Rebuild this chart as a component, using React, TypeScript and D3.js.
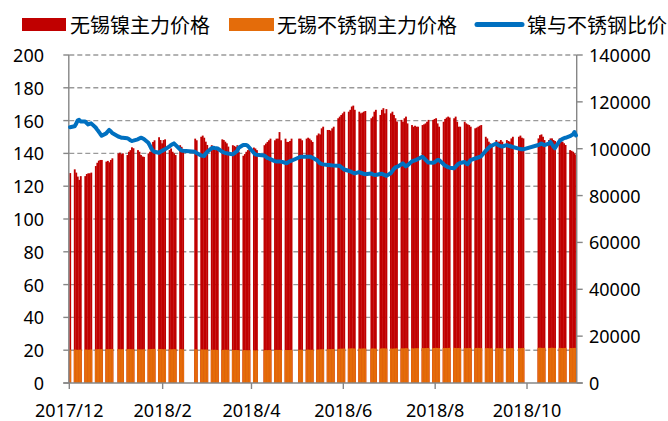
import React from "react";
import * as d3 from "d3";

// ---- categories: trading days (weekdays minus exchange holidays) ----
const firstDay = "2017-12-01";
const lastDay = "2018-11-02";
const holidays = [
  "2018-01-01", "2018-02-15", "2018-02-16", "2018-02-19", "2018-02-20", "2018-02-21",
  "2018-04-05", "2018-04-06", "2018-04-30", "2018-05-01", "2018-06-18", "2018-09-24",
  "2018-10-01", "2018-10-02", "2018-10-03", "2018-10-04", "2018-10-05",
];

// 无锡镍主力价格 (元/吨, right axis), one line per trading week
const nickel = [
  89600,
  91200, 89800, 88100, 86700, 88300,
  88300, 89200, 89500, 89500, 89800,
  92600, 94000, 94900, 95200, 95200,
  94500, 94800, 94200, 95200, 95900,
  98000, 98300, 97700, 98000,
  97300, 98700, 99400, 100600, 100200,
  99400, 98700, 97300, 96700, 96500,
  98000, 98700, 99400, 102900, 103600,
  104900, 103700, 102300, 103700, 104000,
  99400, 100100, 98700, 98000, 97300,
  101500, 100800, 98700,
  104300, 103600,
  105100, 105600, 104700, 103000, 101600,
  101500, 100800, 100100, 99800, 99400,
  104000, 103700, 103000, 102300, 100900,
  101500, 101200, 100800, 101500, 98700,
  97000, 97700, 98700, 99400, 99900,
  100500, 100100, 99400,
  101500, 102200, 102900, 103600, 104300,
  103600, 104300, 104300, 107100, 103600,
  104300, 102900, 102900, 103300, 104300,
  104300, 104300, 103600,
  104300, 104700, 104300, 103600, 102900,
  105700, 106500, 106100, 108700, 109400,
  108000, 108000, 107700, 108700, 109400,
  113000, 113700, 114400, 115100, 115800,
  115800, 116600, 118000, 118400, 116600,
  115800, 115100, 115400, 115800, 116100,
  113000, 113700, 115800, 116600,
  114400, 116600, 117300, 115100, 116900,
  115100, 115800, 114400, 113000, 111600,
  112300, 111500, 113000, 113700, 110800,
  110100, 109400, 109800, 109400, 109400,
  110100, 110400, 110800, 111500, 112300,
  112300, 112700, 113000, 110800, 109400,
  111500, 112700, 113300, 113700, 113300,
  113000, 113700, 111500, 109400, 109400,
  111500, 110800, 110400, 110100, 109400,
  108700, 109000, 109400, 109800, 110100,
  105100, 104400, 103000, 102300, 101600,
  103700, 103000, 103000, 103700, 103000,
  103700, 103300, 103000, 104400, 105100,
  105100, 105600, 104700, 104400,
  104400, 105800, 106100, 105100, 103700,
  103700, 104400, 104400, 103700, 103300,
  104400, 103700, 103000, 102300, 101600,
  99400, 99100, 98700, 98000, 97300,
];

// 无锡不锈钢主力价格 (元/吨, right axis)
const stainless = [
  14200,
  14250, 14200, 14150, 14200, 14250,
  14300, 14250, 14200, 14250, 14300,
  14350, 14400, 14450, 14400, 14450,
  14450, 14400, 14450, 14500, 14500,
  14450, 14400, 14400, 14450,
  14450, 14500, 14450, 14400, 14400,
  14400, 14350, 14300, 14350, 14400,
  14400, 14450, 14500, 14550, 14550,
  14500, 14500, 14450, 14400, 14450,
  14400, 14350, 14400, 14450, 14400,
  14450, 14400, 14350,
  14400, 14350,
  14350, 14300, 14250, 14300, 14250,
  14200, 14150, 14200, 14150, 14100,
  14100, 14150, 14200, 14150, 14150,
  14100, 14050, 14100, 14050, 14000,
  14000, 14050, 14000, 13950, 14000,
  13950, 13900, 13950,
  14000, 14050, 14000, 14050, 14100,
  14100, 14150, 14100, 14150, 14100,
  14100, 14050, 14050, 14100, 14150,
  14150, 14200, 14150,
  14200, 14250, 14200, 14150, 14200,
  14250, 14300, 14350, 14400, 14400,
  14400, 14450, 14450, 14500, 14500,
  14550, 14600, 14650, 14650, 14700,
  14700, 14750, 14800, 14750, 14700,
  14700, 14650, 14700, 14750, 14700,
  14700, 14750, 14700, 14650,
  14700, 14750, 14800, 14750, 14700,
  14700, 14650, 14700, 14750, 14800,
  14800, 14750, 14800, 14850, 14800,
  14800, 14750, 14800, 14850, 14850,
  14900, 14850, 14900, 14950, 14900,
  14900, 14950, 15000, 14950, 14900,
  14900, 14950, 14900, 14950, 15000,
  15000, 14950, 14900, 14950, 14900,
  14900, 14850, 14900, 14950, 14900,
  14900, 14950, 15000, 14950, 14900,
  14850, 14900, 14850, 14800, 14850,
  14850, 14900, 14850, 14900, 14850,
  14850, 14800, 14850, 14900, 14850,
  14900, 14850, 14900, 14950,
  15000, 15050, 15000, 14950, 15000,
  14950, 15000, 15050, 15000, 14950,
  15000, 14950, 14900, 14950, 15000,
  14950, 14900, 14950, 15000, 14950,
];

// 镍与不锈钢比价 (left axis)
const ratio = [
  156,
  156.5, 158, 160, 160.5, 159.5,
  159.5, 158.5, 157.7, 158, 158.3,
  155.8, 154.5, 153.3, 152, 150.8,
  152.2, 153.3, 154.3, 153.5, 152.4,
  150.3, 150, 149.6, 149.6,
  149.3, 148.8, 148, 147.6, 147.8,
  148.6, 149.1, 149.6, 149.3, 148.8,
  146.5, 144.8, 143, 141.7, 141,
  140.4, 141, 141.5, 142, 142.5,
  144.3, 145, 145.6, 146.1, 145.2,
  142.5, 141.8, 141.6,
  141, 140.2,
  138.8, 138.5, 138.4, 139.7, 140.8,
  143.1, 143.5, 143.3, 143.2, 143,
  141.1, 140.6, 140.3, 140.1, 139.9,
  139.4, 140, 140.8, 141.4, 143.5,
  145.1, 145.1, 145.1, 144.6, 143.6,
  140.4, 139.4, 139.2,
  138.7, 138, 137.3, 136.9, 136.5,
  135.3, 135.1, 135, 135, 135,
  134.3, 134, 134.7, 135.3, 135.5,
  137.5, 138, 138,
  138, 138, 138, 137.9, 137.3,
  135.9, 134.9, 134, 133.6, 133.3,
  132.9, 132.9, 132.8, 132.7, 132.6,
  132.5, 132.5, 131.7, 131, 130.2,
  129.4, 129.1, 128.6, 128.2, 127.8,
  128.6, 128.2, 127.9, 127.6, 127.3,
  127.8, 127.2, 126.9, 126.8,
  127.4, 127.6, 127.2, 126.8, 126.3,
  127.9, 129.2, 130.5, 131.4, 131.7,
  133.2, 134, 133, 132.1, 132.6,
  135.1, 135.4, 135.7, 136.1, 136.6,
  138, 137.1, 136.2, 135.3, 134.4,
  134.3, 134.5, 135.2, 136, 136,
  133.5, 132.6, 132.1, 131.6, 131.3,
  130.9, 131.8, 132.8, 133.7, 134.2,
  134.7, 134, 133.4, 134.6, 135.9,
  136.9, 137.2, 137.5, 137.8, 138.3,
  141.5, 142.4, 143.4, 144.3, 144.7,
  146, 145.3, 144.8, 144.4, 144.2,
  145.1, 144.8, 144.5, 144.2, 143.9,
  142.9, 142.7, 142.5, 142.5,
  145.1, 145.5, 146, 145.6, 145,
  146, 147, 145.6, 144.3, 143.2,
  147.4, 148.2, 148.8, 149.3, 149.5,
  150.5, 151, 151.5, 153, 151,
];

const xTickDates = ["2017-12-01", "2018-02-01", "2018-04-01", "2018-06-01", "2018-08-01", "2018-10-01"];
const xTickLabels = ["2017/12", "2018/2", "2018/4", "2018/6", "2018/8", "2018/10"];
const leftTicks = [0, 20, 40, 60, 80, 100, 120, 140, 160, 180, 200];
const rightTicks = [0, 20000, 40000, 60000, 80000, 100000, 120000, 140000];
const seriesNames = ["无锡镍主力价格", "无锡不锈钢主力价格", "镍与不锈钢比价"];

const DAY = 864e5;
const parseUTC = (s: string) => new Date(s + "T00:00:00Z");

function tradingDays(): Date[] {
  const out: Date[] = [];
  for (let t = parseUTC(firstDay).getTime(); t <= parseUTC(lastDay).getTime(); t += DAY) {
    const dt = new Date(t);
    const wd = dt.getUTCDay();
    const s = dt.toISOString().slice(0, 10);
    if (wd !== 0 && wd !== 6 && !holidays.includes(s)) out.push(dt);
  }
  return out;
}

const W = 668;
const H = 421;
const RED = "#C00000";
const ORANGE = "#E46C0A";
const BLUE = "#0070C0";
const AXIS = "#868686";
const NUM_FONT = "'Noto Sans', 'Open Sans', sans-serif";
const CJK_FONT = "'Noto Sans CJK SC', sans-serif";

export default function App() {
  const dates = tradingDays();
  const n = Math.min(dates.length, nickel.length, stainless.length, ratio.length);
  const left = 69.3;
  const right = 576.7;
  const top = 55;
  const bottom = 383;

  const x = d3
    .scaleUtc()
    .domain([parseUTC(firstDay), new Date(parseUTC(lastDay).getTime() + DAY)])
    .range([left, right]);
  const yL = d3.scaleLinear().domain([0, 200]).range([bottom, top]);
  const yR = d3.scaleLinear().domain([0, 140000]).range([bottom, top]);

  const idx = d3.range(n);
  const line = d3
    .line<number>()
    .x((i) => x(new Date(dates[i].getTime() + DAY / 2)))
    .y((i) => yL(ratio[i]))
    .curve(d3.curveLinear);

  const barX = (i: number) => x(dates[i]);
  // slight overlap so consecutive trading days read as one solid block
  const barW = (i: number) => x(new Date(dates[i].getTime() + DAY)) - x(dates[i]) + 0.35;

  return (
    <svg
      width={W}
      height={H}
      style={{ position: "absolute", left: 0, top: 0, background: "#fff" }}
    >
      <rect x={0} y={0} width={W} height={H} fill="#fff" />
      {/* gridlines */}
      {leftTicks.filter((v) => v > 0).map((v) => (
        <line
          key={"g" + v}
          x1={left}
          x2={right}
          y1={yL(v)}
          y2={yL(v)}
          stroke="#9A9A9A"
          strokeWidth={1.4}
          strokeDasharray="5,3"
        />
      ))}
      {/* nickel bars */}
      {idx.map((i) => (
        <rect
          key={"n" + i}
          x={barX(i)}
          y={yR(nickel[i])}
          width={barW(i)}
          height={bottom - yR(nickel[i])}
          fill={RED}
        />
      ))}
      {/* stainless bars */}
      {idx.map((i) => (
        <rect
          key={"s" + i}
          x={barX(i)}
          y={yR(stainless[i])}
          width={barW(i)}
          height={bottom - yR(stainless[i])}
          fill={ORANGE}
        />
      ))}
      {/* axes */}
      <line x1={left - 0.5} x2={left - 0.5} y1={top} y2={bottom} stroke={AXIS} strokeWidth={1.4} />
      <line x1={right} x2={right} y1={top} y2={bottom} stroke={AXIS} strokeWidth={1.4} />
      <line x1={left - 6} x2={right + 6} y1={bottom} y2={bottom} stroke={AXIS} strokeWidth={1.4} />
      {leftTicks.map((v) => (
        <g key={"lt" + v}>
          <line x1={left - 6} x2={left} y1={yL(v)} y2={yL(v)} stroke={AXIS} strokeWidth={1.4} />
          <text
            x={44}
            y={yL(v)}
            textAnchor="end"
            dominantBaseline="central"
            fontFamily={NUM_FONT}
            fontSize={18}
            fill="#000"
          >
            {v}
          </text>
        </g>
      ))}
      {rightTicks.map((v) => (
        <g key={"rt" + v}>
          <line x1={right} x2={right + 6} y1={yR(v)} y2={yR(v)} stroke={AXIS} strokeWidth={1.4} />
          <text
            x={589}
            y={yR(v)}
            textAnchor="start"
            dominantBaseline="central"
            fontFamily={NUM_FONT}
            fontSize={18}
            fill="#000"
          >
            {v}
          </text>
        </g>
      ))}
      {xTickDates.map((s, k) => (
        <g key={"xt" + s}>
          <line x1={x(parseUTC(s))} x2={x(parseUTC(s))} y1={bottom} y2={bottom + 6} stroke={AXIS} strokeWidth={1.4} />
          <text
            x={x(parseUTC(s))}
            y={410}
            textAnchor="middle"
            dominantBaseline="central"
            fontFamily={NUM_FONT}
            fontSize={18}
            fill="#000"
          >
            {xTickLabels[k]}
          </text>
        </g>
      ))}
      {/* ratio line */}
      <path
        d={line(idx) || ""}
        fill="none"
        stroke={BLUE}
        strokeWidth={4}
        strokeLinejoin="round"
        strokeLinecap="round"
      />
      {/* legend */}
      <rect x={22} y={18} width={44} height={13} fill={RED} />
      <text x={70} y={24.5} dominantBaseline="central" fontFamily={CJK_FONT} fontSize={20} fill="#000">
        {seriesNames[0]}
      </text>
      <rect x={229} y={18} width={45} height={13} fill={ORANGE} />
      <text x={277} y={24.5} dominantBaseline="central" fontFamily={CJK_FONT} fontSize={20} fill="#000">
        {seriesNames[1]}
      </text>
      <line x1={477} x2={522} y1={24.5} y2={24.5} stroke={BLUE} strokeWidth={5} strokeLinecap="round" />
      <text x={527} y={24.5} dominantBaseline="central" fontFamily={CJK_FONT} fontSize={20} fill="#000">
        {seriesNames[2]}
      </text>
    </svg>
  );
}
